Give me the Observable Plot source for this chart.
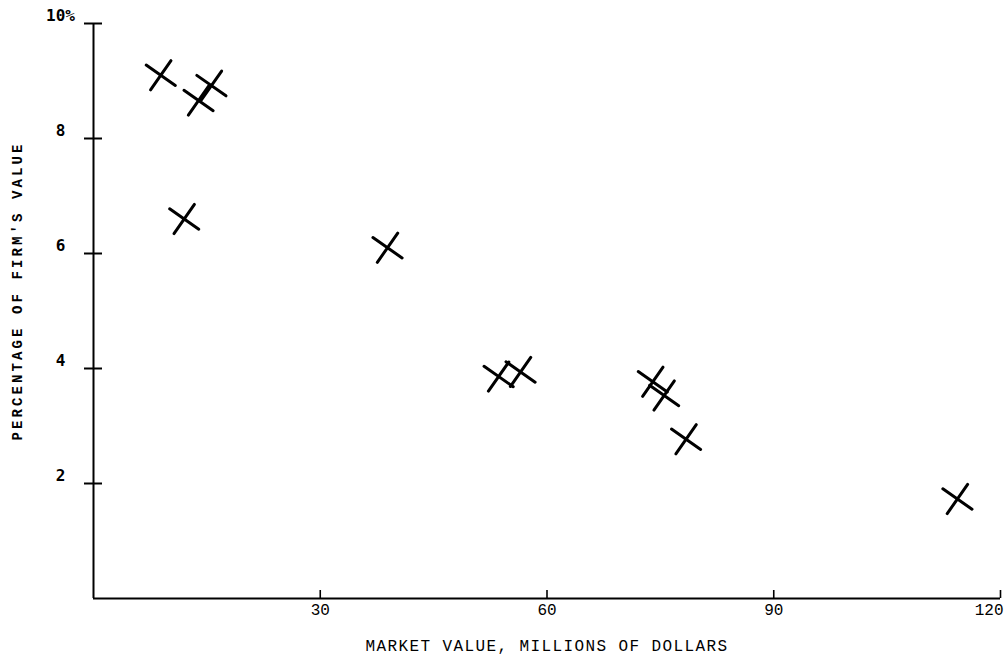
<!DOCTYPE html>
<html>
<head>
<meta charset="utf-8">
<script src="https://cdn.jsdelivr.net/npm/d3@7"></script>
<script src="https://cdn.jsdelivr.net/npm/@observablehq/plot@0.6"></script>
<style>
  html, body { margin: 0; padding: 0; background: #fff; }
  #chart svg { display: block; }
</style>
</head>
<body>
<div id="chart"></div>
<script>
// Data (market value in $ millions, percentage of firm's value)
const marketValue = [8.9, 13.9, 15.6, 12.0, 38.9, 53.6, 56.5, 74.0, 75.5, 78.4, 114.3];
const percentValue = [9.10, 8.66, 8.92, 6.60, 6.10, 3.86, 3.94, 3.77, 3.53, 2.77, 1.73];
const xTicks = [30, 60, 90, 120];
const yTicks = [2, 4, 6, 8, 10];
const yTickLabels = ["2", "4", "6", "8", "10%"];
const xLabel = "MARKET VALUE, MILLIONS OF DOLLARS";
const yLabel = "PERCENTAGE OF FIRM'S VALUE";

const points = marketValue.map((v, i) => ({x: v, y: percentValue[i]}));

const W = 1005, H = 658;
const mL = 93, mR = 5, mT = 23, mB = 60;
const plotW = W - mL - mR, plotH = H - mT - mB;

const chart = Plot.plot({
  width: W,
  height: H,
  marginLeft: mL,
  marginRight: mR,
  marginTop: mT,
  marginBottom: mB,
  x: {domain: [0, 120], axis: null},
  y: {domain: [0, 10], axis: null},
  style: {background: "#fff", color: "#000"},
  marks: [
    // axis lines
    Plot.ruleX([0], {stroke: "#000", strokeWidth: 2}),
    Plot.ruleY([0], {stroke: "#000", strokeWidth: 2}),
    // y ticks crossing the axis
    Plot.ruleY(yTicks, {y: d => d, stroke: "#000", strokeWidth: 2, insetLeft: -9, insetRight: plotW - 9}),
    // x ticks pointing up
    Plot.ruleX(xTicks, {x: d => d, stroke: "#000", strokeWidth: 1.6, insetTop: plotH - 8}),
    // y tick labels
    Plot.text(yTicks, {y: d => d, text: (d, i) => yTickLabels[i], frameAnchor: "left", dx: -33, dy: -8,
      textAnchor: "middle", lineAnchor: "middle", fontFamily: "DejaVu Sans Mono", fontWeight: "bold", fontSize: 16, fill: "#000"}),
    // x tick labels
    Plot.text(xTicks.slice(0, -1), {x: d => d, text: d => String(d), frameAnchor: "bottom", dy: 11,
      textAnchor: "middle", lineAnchor: "middle", fontFamily: "Liberation Mono", fontSize: 16, fill: "#000"}),
    Plot.text(xTicks.slice(-1), {x: d => d, text: d => String(d), frameAnchor: "bottom", dy: 11, dx: 3,
      textAnchor: "end", lineAnchor: "middle", fontFamily: "Liberation Mono", fontSize: 16, fill: "#000"}),
    // axis titles
    Plot.text([xLabel], {text: d => d, frameAnchor: "bottom", dy: 47,
      textAnchor: "middle", lineAnchor: "middle", fontFamily: "Liberation Mono", fontSize: 16, fill: "#000"}),
    Plot.text([yLabel], {text: d => d, frameAnchor: "left", dx: -76, dy: -20, rotate: -90,
      textAnchor: "middle", lineAnchor: "middle", fontFamily: "Liberation Mono", fontWeight: "bold", fontSize: 14, fill: "#000"}),
    // data points as hand-drawn-style crosses
    Plot.dot(points, {x: "x", y: "y", symbol: "times", r: 11.5, rotate: -10,
      stroke: "#000", strokeWidth: 3, strokeLinecap: "round"})
  ]
});

document.getElementById("chart").appendChild(chart);

// letter spacing for the typewriter-style axis titles
d3.select(chart).selectAll("text").each(function() {
  const t = d3.select(this).text();
  if (t === xLabel) d3.select(this).style("letter-spacing", "1.4px");
  if (t === yLabel) d3.select(this).style("letter-spacing", "3.1px");
});
</script>
</body>
</html>
